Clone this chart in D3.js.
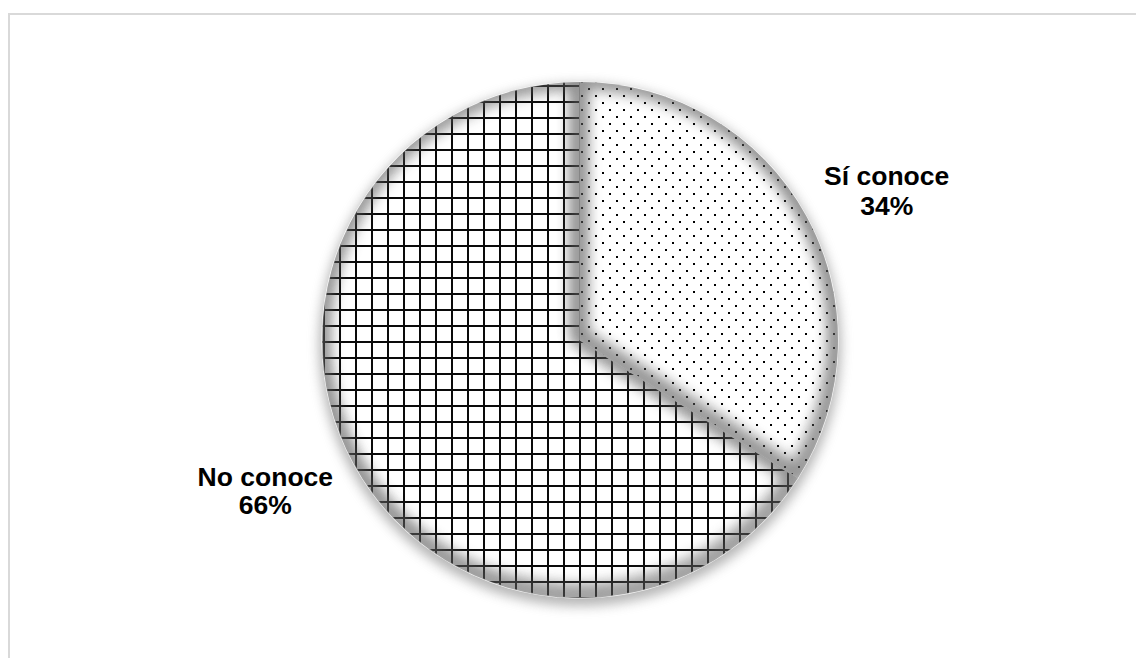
<!DOCTYPE html>
<html>
<head>
<meta charset="utf-8">
<script src="https://cdn.jsdelivr.net/npm/d3@7"></script>
<style>
  html, body { margin: 0; padding: 0; background: #ffffff; }
  svg { display: block; }
</style>
</head>
<body>
<svg id="chart" width="1136" height="658"></svg>
<script>
// Survey answers and their shares (%)
const categories = ["Sí conoce", "No conoce"];
const shares = [34, 66];
const fills = ["url(#dots)", "url(#grid)"];

const W = 1136, H = 658;
const cx = 580, cy = 340, R = 258;

const svg = d3.select("#chart");
const defs = svg.append("defs");

// Cross-hatch pattern for "No conoce"
const grid = defs.append("pattern")
  .attr("id", "grid")
  .attr("patternUnits", "userSpaceOnUse")
  .attr("x", 527).attr("y", 97)
  .attr("width", 16).attr("height", 16);
grid.append("rect").attr("width", 16).attr("height", 16).attr("fill", "#ffffff");
grid.append("rect").attr("x", 0).attr("y", 0).attr("width", 2).attr("height", 16)
  .attr("fill", "#0a0a0a").attr("shape-rendering", "crispEdges");
grid.append("rect").attr("x", 0).attr("y", 0).attr("width", 16).attr("height", 2)
  .attr("fill", "#0a0a0a").attr("shape-rendering", "crispEdges");

// Fine dotted pattern for "Sí conoce"
const dots = defs.append("pattern")
  .attr("id", "dots")
  .attr("patternUnits", "userSpaceOnUse")
  .attr("x", 582).attr("y", 84)
  .attr("width", 14).attr("height", 14);
dots.append("rect").attr("width", 14).attr("height", 14).attr("fill", "#ffffff");
dots.append("rect").attr("x", 0).attr("y", 0).attr("width", 2).attr("height", 2)
  .attr("fill", "#000").attr("shape-rendering", "crispEdges");
dots.append("rect").attr("x", 7).attr("y", 7).attr("width", 2).attr("height", 2)
  .attr("fill", "#000").attr("shape-rendering", "crispEdges");

// Soft outer shadow
const fShadow = defs.append("filter").attr("id", "outerShadow")
  .attr("x", "-20%").attr("y", "-20%").attr("width", "140%").attr("height", "140%");
fShadow.append("feGaussianBlur").attr("stdDeviation", 6);

// Blur used for the bevel shading inside each slice
const fBevel = defs.append("filter").attr("id", "bevelBlur")
  .attr("x", "-20%").attr("y", "-20%").attr("width", "140%").attr("height", "140%");
fBevel.append("feGaussianBlur").attr("stdDeviation", 7);

// Chart frame
svg.append("line").attr("x1", 8).attr("x2", W).attr("y1", 14).attr("y2", 14)
  .attr("stroke", "#d9d9d9").attr("stroke-width", 2);
svg.append("line").attr("x1", 9).attr("x2", 9).attr("y1", 13).attr("y2", H)
  .attr("stroke", "#d9d9d9").attr("stroke-width", 2);

const pie = d3.pie().sort(null).value(d => d)(shares);
const arc = d3.arc().innerRadius(0).outerRadius(R);

const g = svg.append("g").attr("transform", `translate(${cx},${cy})`);

// shadow beneath the whole pie
g.append("circle")
  .attr("cx", 0).attr("cy", 5).attr("r", R + 3)
  .attr("fill", "#858585").attr("opacity", 0.6)
  .attr("filter", "url(#outerShadow)");

pie.forEach((p, i) => {
  const path = arc(p);
  defs.append("clipPath").attr("id", "clip" + i)
    .append("path").attr("transform", `translate(${cx},${cy})`).attr("d", path);

  g.append("path").attr("d", path).attr("fill", fills[i]);

  // inner bevel: blurred dark rims clipped to the slice, heavier toward the bottom
  const shade = svg.append("g").attr("clip-path", `url(#clip${i})`);
  shade.append("path").attr("transform", `translate(${cx},${cy})`).attr("d", path)
    .attr("fill", "none").attr("stroke", "#555").attr("stroke-width", 16)
    .attr("stroke-linejoin", "round").attr("opacity", 0.55)
    .attr("filter", "url(#bevelBlur)");
  shade.append("path").attr("transform", `translate(${cx - 3},${cy - 8})`).attr("d", path)
    .attr("fill", "none").attr("stroke", "#666").attr("stroke-width", 14)
    .attr("stroke-linejoin", "round").attr("opacity", 0.45)
    .attr("filter", "url(#bevelBlur)");
});

// thin light rim around the pie
g.selectAll("path.rim").data(pie).join("path").attr("class", "rim")
  .attr("d", arc).attr("fill", "none").attr("stroke", "#ffffff").attr("stroke-width", 1.2)
  .attr("opacity", 0.8);

// Labels, anchored on each slice's mid-angle and nudged to sit beside the pie
const labelArc = d3.arc().innerRadius(R * 1.33).outerRadius(R * 1.33);
const nudges = [[6, 10], [-14, -19]];
const lineGaps = [30, 28];
const labels = svg.append("g").attr("transform", `translate(${cx},${cy})`);
pie.forEach((p, i) => {
  const [lx, ly] = labelArc.centroid(p);
  const x = lx + nudges[i][0], y = ly + nudges[i][1];
  const t = labels.append("text")
    .attr("text-anchor", "middle")
    .attr("font-family", "Liberation Sans, Arial, sans-serif")
    .attr("font-weight", "bold")
    .attr("font-size", 26.5)
    .attr("fill", "#000");
  t.append("tspan").attr("x", x).attr("y", y).text(categories[i]);
  t.append("tspan").attr("x", x).attr("y", y + lineGaps[i]).text(shares[i] + "%");
});
</script>
</body>
</html>
